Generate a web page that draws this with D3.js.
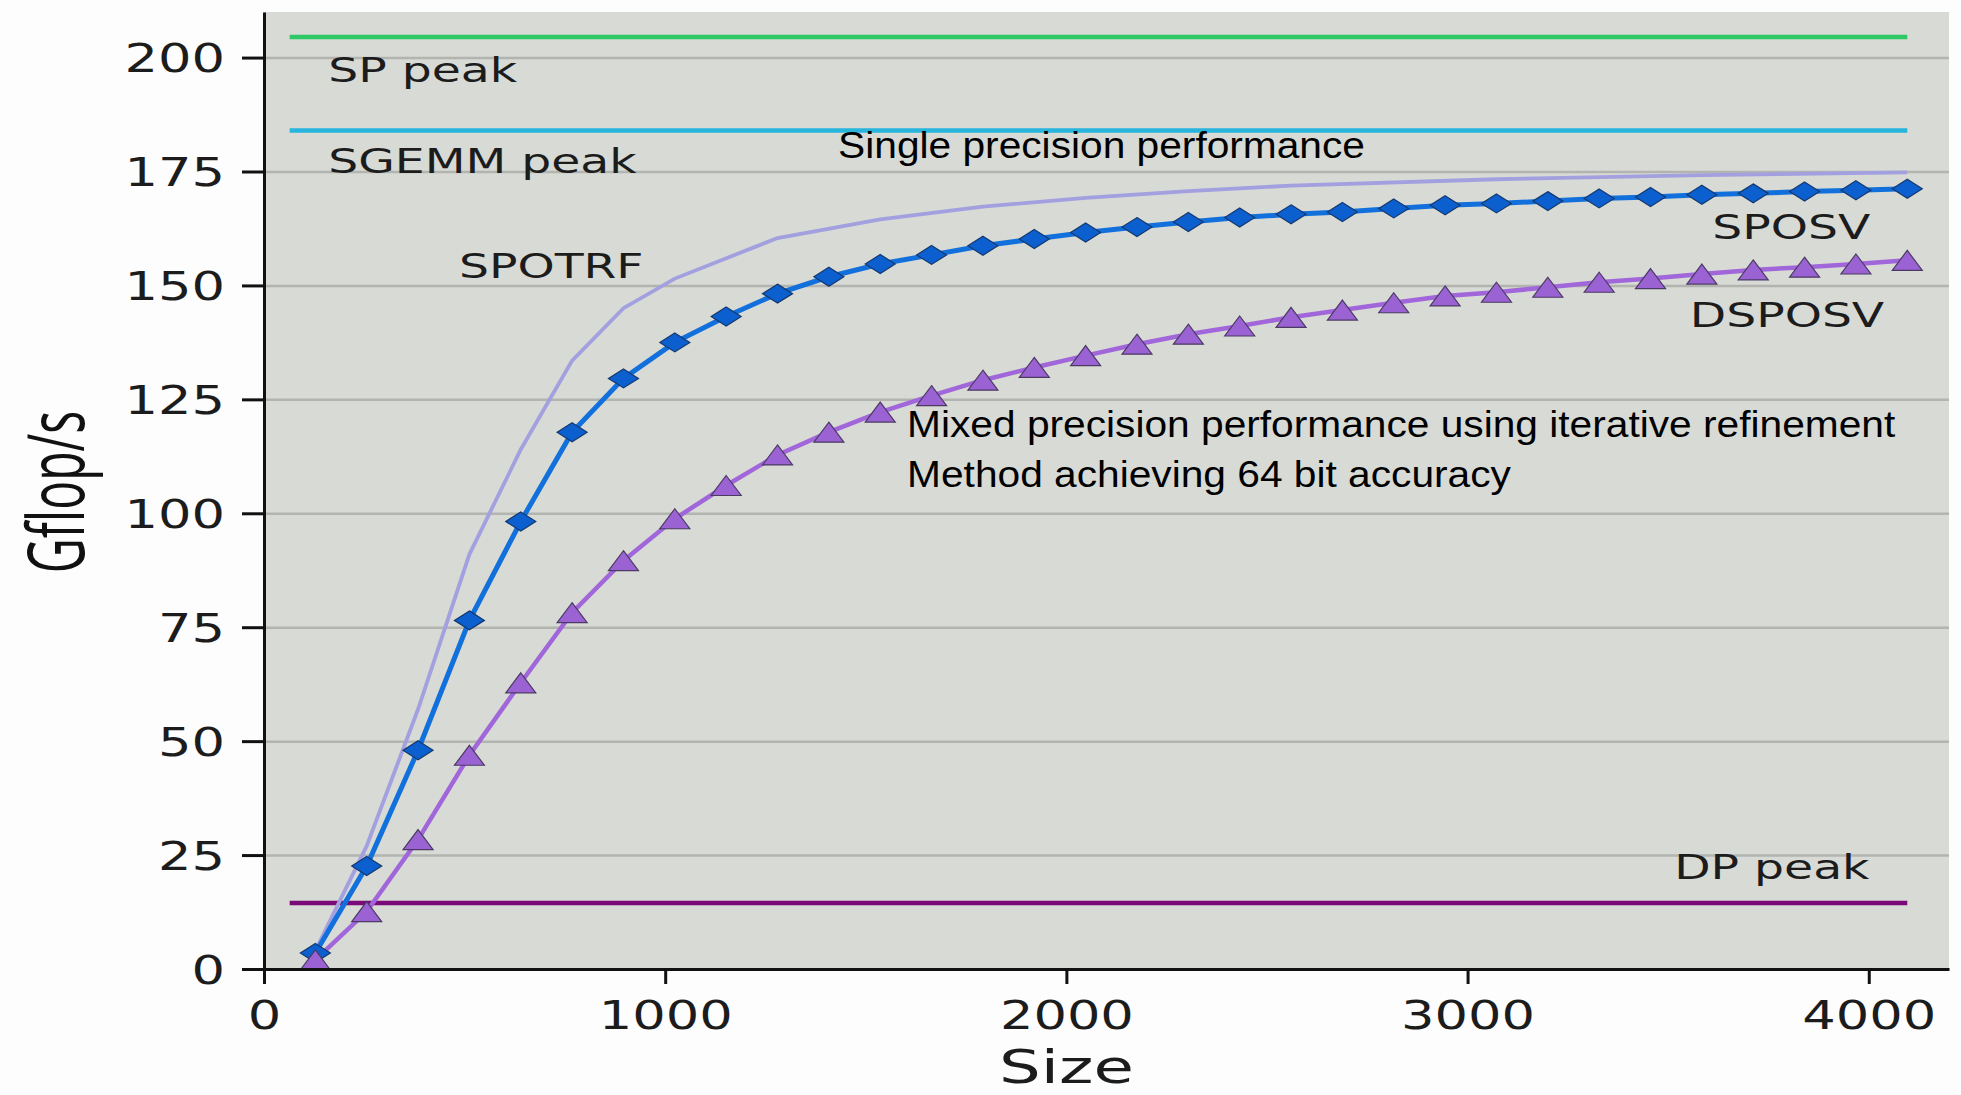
<!DOCTYPE html>
<html lang="en">
<head>
<meta charset="UTF-8">
<title>SPOSV vs DSPOSV performance</title>
<style>
  body { margin: 0; background: #fdfdfd; }
  svg { display: block; }
  .tick text { font-family: 'DejaVu Sans', sans-serif; font-size: 39px; fill: #1c1c1c; }
  .series-label { font-family: 'DejaVu Sans', sans-serif; font-size: 34px; fill: #1c1c1c; }
  .note { font-family: 'Liberation Sans', Arial, sans-serif; font-size: 37px; fill: #000; }
</style>
</head>
<body>
<svg id="chart" width="1961" height="1095"></svg>
<script src="https://d3js.org/d3.v7.min.js"></script>
<script>
// matrix sizes (one measurement every 128)
const sizes = [128, 256, 384, 512, 640, 768, 896, 1024, 1152, 1280, 1408, 1536, 1664, 1792, 1920, 2048,
  2176, 2304, 2432, 2560, 2688, 2816, 2944, 3072, 3200, 3328, 3456, 3584, 3712, 3840, 3968, 4096];

// Gflop/s
const sposv = [3.5, 22.6, 48.0, 76.5, 98.2, 117.8, 129.6, 137.5, 143.2, 148.2, 151.9, 154.7, 156.7, 158.7, 160.2, 161.6,
  162.8, 163.9, 164.9, 165.6, 166.1, 166.9, 167.6, 168.0, 168.5, 169.1, 169.4, 169.9, 170.2, 170.6, 170.9, 171.2];
const dsposv = [2.0, 12.6, 28.4, 46.9, 62.8, 78.2, 89.6, 98.8, 106.1, 112.8, 117.8, 122.2, 125.8, 129.2, 132.0, 134.6,
  137.1, 139.3, 141.1, 143.0, 144.6, 146.2, 147.7, 148.5, 149.6, 150.7, 151.5, 152.5, 153.4, 154.0, 154.7, 155.5];

const spotrfSizes = [128, 256, 384, 512, 640, 768, 896, 1024, 1280, 1536, 1792, 2048, 2304, 2560, 3072, 3584, 4096];
const spotrf = [4, 27, 57, 91, 114, 133.5, 145, 151.5, 160.4, 164.5, 167.3, 169.2, 170.7, 171.9, 173.3, 174.2, 174.8];

// horizontal reference lines
const peakNames = ['SP peak', 'SGEMM peak', 'DP peak'];
const peakValues = [204.5, 184, 14.5];
const peakFrom = 64, peakTo = 4096;

const xTicks = [0, 1000, 2000, 3000, 4000];
const yTicks = [0, 25, 50, 75, 100, 125, 150, 175, 200];

// text labels placed in data units [size, gflops]
const seriesLabels = [
  ['SP peak', 160, 194.6],
  ['SGEMM peak', 160, 174.7],
  ['SPOTRF', 486, 151.7],
  ['SPOSV', 3610, 160.1],
  ['DSPOSV', 3554, 140.9],
  ['DP peak', 3515, 19.7]
];
const notes = [
  ['Single precision performance', 1431, 178.0],
  ['Mixed precision performance using iterative refinement', 1603, 116.7],
  ['Method achieving 64 bit accuracy', 1603, 105.8]
];

const width = 1961, height = 1095;
const margin = { top: 12, right: 12, bottom: 126, left: 264 };
const plotW = width - margin.left - margin.right;
const plotH = height - margin.top - margin.bottom;

const x = d3.scaleLinear().domain([0, 4200]).range([margin.left, width - margin.right]);
const y = d3.scaleLinear().domain([0, 210]).range([height - margin.bottom, margin.top]);

const svg = d3.select('#chart');

// plot background
svg.append('rect')
  .attr('x', x(0)).attr('y', y(210))
  .attr('width', plotW).attr('height', plotH)
  .attr('fill', '#d8dad6');

// horizontal grid
const grid = svg.append('g')
  .attr('transform', `translate(${margin.left},0)`)
  .call(d3.axisLeft(y).tickValues(yTicks).tickSize(-plotW).tickFormat(''));
grid.select('.domain').remove();
grid.selectAll('line').attr('stroke', '#b2b4b0').attr('stroke-width', 2.5);

// peak lines
const peakColors = ['#2ec866', '#27b4dd', '#7a0a78'];
svg.append('g').selectAll('line')
  .data(peakValues)
  .join('line')
  .attr('x1', x(peakFrom)).attr('x2', x(peakTo))
  .attr('y1', d => y(d)).attr('y2', d => y(d))
  .attr('stroke', (d, i) => peakColors[i])
  .attr('stroke-width', 4.5);

// curves
const line = d3.line().x(d => x(d[0])).y(d => y(d[1]));

svg.append('path')
  .datum(d3.zip(spotrfSizes, spotrf))
  .attr('d', line)
  .attr('fill', 'none')
  .attr('stroke', '#a3a0e0')
  .attr('stroke-width', 3.8);

svg.append('path')
  .datum(d3.zip(sizes, sposv))
  .attr('d', line)
  .attr('fill', 'none')
  .attr('stroke', '#1170dc')
  .attr('stroke-width', 5);

svg.append('path')
  .datum(d3.zip(sizes, dsposv))
  .attr('d', line)
  .attr('fill', 'none')
  .attr('stroke', '#a066da')
  .attr('stroke-width', 4.5);

// markers
svg.append('g').selectAll('path')
  .data(d3.zip(sizes, sposv))
  .join('path')
  .attr('transform', d => `translate(${x(d[0])},${y(d[1])})`)
  .attr('d', 'M0,-9.5L15,0L0,9.5L-15,0Z')
  .attr('fill', '#0b5fcf')
  .attr('stroke', '#15396e')
  .attr('stroke-width', 1.2);

svg.append('g').selectAll('path')
  .data(d3.zip(sizes, dsposv))
  .join('path')
  .attr('transform', d => `translate(${x(d[0])},${y(d[1])})`)
  .attr('d', 'M0,-10L15,10L-15,10Z')
  .attr('fill', '#9a62d2')
  .attr('stroke', '#4b3b63')
  .attr('stroke-width', 1.2);

// labels
svg.append('g').selectAll('text')
  .data(seriesLabels)
  .join('text')
  .attr('class', 'series-label')
  .attr('transform', d => `translate(${x(d[1])},${y(d[2])}) scale(1.39,1)`)
  .text(d => d[0]);

svg.append('g').selectAll('text')
  .data(notes)
  .join('text')
  .attr('class', 'note')
  .attr('transform', d => `translate(${x(d[1])},${y(d[2])}) scale(1.1,1)`)
  .text(d => d[0]);

// axes
const yAxis = svg.append('g')
  .attr('transform', `translate(${margin.left},0)`)
  .call(d3.axisLeft(y).tickValues(yTicks).tickSize(22).tickSizeOuter(0));
yAxis.select('.domain').attr('stroke', '#111').attr('stroke-width', 3);
yAxis.selectAll('.tick line').attr('stroke', '#111').attr('stroke-width', 3);
yAxis.selectAll('.tick text')
  .attr('x', 0).attr('dy', '0.36em')
  .attr('transform', 'translate(-39,0) scale(1.35,1)');

const xAxis = svg.append('g')
  .attr('transform', `translate(0,${y(0)})`)
  .call(d3.axisBottom(x).tickValues(xTicks).tickFormat(d3.format('d')).tickSize(15).tickSizeOuter(0));
xAxis.select('.domain').attr('stroke', '#111').attr('stroke-width', 3);
xAxis.selectAll('.tick line').attr('stroke', '#111').attr('stroke-width', 3);
xAxis.selectAll('.tick text')
  .attr('y', 0).attr('dy', 0)
  .attr('transform', 'translate(0,60) scale(1.35,1)');

// axis titles
svg.append('text')
  .attr('transform', `translate(${x(2000)},1083) scale(1.4,1)`)
  .attr('text-anchor', 'middle')
  .style('font-family', "'DejaVu Sans', sans-serif")
  .style('font-size', '47px')
  .attr('fill', '#1c1c1c')
  .text('Size');

svg.append('text')
  .attr('transform', 'translate(84,492) rotate(-90) scale(0.86,1.42)')
  .attr('text-anchor', 'middle')
  .style('font-family', "'Open Sans', sans-serif")
  .style('font-size', '56px')
  .attr('fill', '#111')
  .text('Gflop/s');
</script>
</body>
</html>
